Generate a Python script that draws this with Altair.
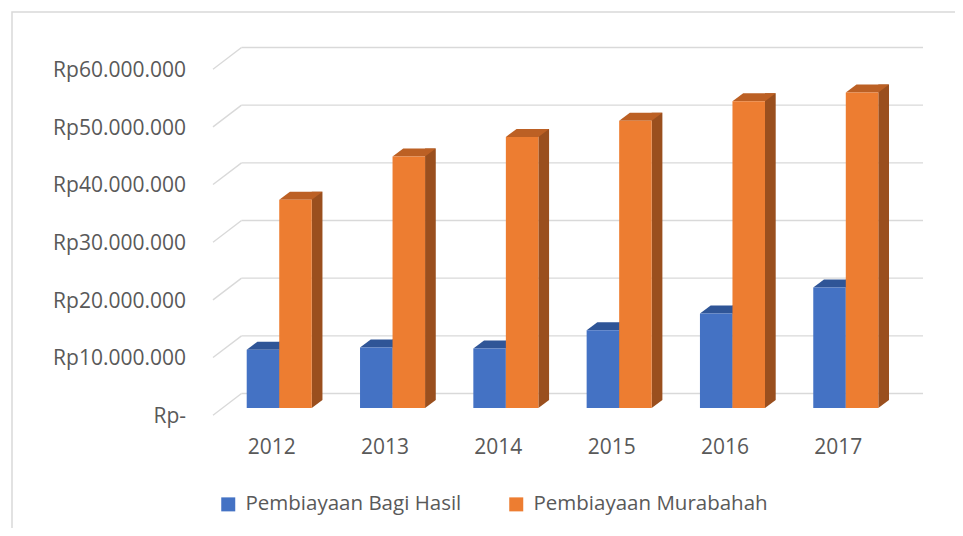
import altair as alt
import pandas as pd

# ---- data ----
years = ["2012", "2013", "2014", "2015", "2016", "2017"]
series_names = ["Pembiayaan Bagi Hasil", "Pembiayaan Murabahah"]
bagi_hasil = [10.1e6, 10.5e6, 10.3e6, 13.5e6, 16.4e6, 20.9e6]
murabahah = [36.1e6, 43.6e6, 47.0e6, 49.8e6, 53.2e6, 54.7e6]
tick_values = [0, 10e6, 20e6, 30e6, 40e6, 50e6, 60e6]
tick_labels = ["Rp-", "Rp10.000.000", "Rp20.000.000", "Rp30.000.000",
               "Rp40.000.000", "Rp50.000.000", "Rp60.000.000"]

front_colors = ["#4472C4", "#ED7D31"]
top_colors = ["#2F5597", "#BC6024"]
side_colors = ["#2A4B86", "#9A4F1E"]

# ---- layout / style constants ----
W, H = 710, 346
PAD_IN, PAD_OUT, ALIGN = 0.426, 0.346, 0.43
step = W / (len(years) - PAD_IN + 2 * PAD_OUT)
bw = step * (1 - PAD_IN) / 2
DX, DY = 10.7, 8.0
BACK_DX, BACK_DY, FRONT_DY = 28.5, -14.5, 7.2
GRID = "#D9D9D9"
TXT = "#595959"
FONT = "Open Sans"
FS = 21

series_values = [bagi_hasil, murabahah]
ticks = pd.DataFrame({"value": tick_values, "label": tick_labels})

x_scale = alt.Scale(type="band", domain=years, paddingInner=PAD_IN,
                    paddingOuter=PAD_OUT, align=ALIGN)
y_scale = alt.Scale(domain=[0, 60e6], nice=False, zero=True)
x_axis = alt.Axis(title=None, domain=False, ticks=False, grid=False,
                  labelAngle=0, labelFontSize=FS, labelColor=TXT,
                  labelFont=FONT, labelPadding=28, labelOffset=-7.5)
color_scale = alt.Scale(domain=series_names, range=front_colors)


def X():
    return alt.X("year:N", scale=x_scale, axis=x_axis, sort=years)


def Y(field="value:Q"):
    return alt.Y(field, scale=y_scale, axis=None)


layers = []

# outer border
border = alt.Chart(pd.DataFrame({"a": [0]})).mark_rect(
    fillOpacity=0, stroke=GRID, strokeWidth=1.5
).encode(x=alt.value(-201), x2=alt.value(780), y=alt.value(-50), y2=alt.value(500))
layers.append(border)

# back-wall gridlines
back = alt.Chart(ticks).mark_rule(color=GRID, strokeWidth=1.4, yOffset=BACK_DY).encode(
    y=Y(), x=alt.value(BACK_DX), x2=alt.value(W))
# floor/perspective diagonals
diag = alt.Chart(ticks).mark_rule(color=GRID, strokeWidth=1.4, yOffset=FRONT_DY,
                                   y2Offset=BACK_DY).encode(
    y=Y(), y2="value:Q", x=alt.value(0), x2=alt.value(BACK_DX))
ylabels = alt.Chart(ticks).mark_text(align="right", baseline="middle", fontSize=FS,
                                     font=FONT, color=TXT, yOffset=9).encode(
    y=Y(), x=alt.value(-27), text="label:N")
layers += [back, diag, ylabels]

top_path = f"M{-bw/2:.2f},0 L{bw/2:.2f},0 L{bw/2+DX:.2f},{-DY} L{-bw/2+DX:.2f},{-DY} Z"
tri_path = f"M{bw/2:.2f},0 L{bw/2+DX:.2f},{-DY} L{bw/2:.2f},{-DY} Z"

for k, name in enumerate(series_names):
    df = pd.DataFrame({"year": years, "value": series_values[k], "series": name})
    off = (k - 0.5) * bw
    side = alt.Chart(df).mark_bar(width=DX, xOffset=off + bw / 2 + DX / 2,
                                  yOffset=-DY, y2Offset=-DY,
                                  color=side_colors[k]).encode(
        x=X(), y=Y(), y2=alt.datum(0))
    tri = alt.Chart(df).mark_point(shape=tri_path, size=4, filled=True, opacity=1,
                                   strokeWidth=0, xOffset=off,
                                   color=side_colors[k]).encode(
        x=X(), y=alt.Y(datum=0, scale=y_scale, axis=None))
    top = alt.Chart(df).mark_point(shape=top_path, size=4, filled=True, opacity=1,
                                   strokeWidth=0, xOffset=off,
                                   color=top_colors[k]).encode(
        x=X(), y=Y())
    front = alt.Chart(df).mark_bar(width=bw, xOffset=off).encode(
        x=X(), y=Y(), y2=alt.datum(0),
        color=alt.Color("series:N", scale=color_scale, title=None,
                        legend=alt.Legend(orient="none", direction="horizontal",
                                          legendX=5, legendY=432,
                                          symbolType="square", symbolSize=196,
                                          symbolStrokeWidth=0, labelFontSize=20.5,
                                          labelFont=FONT, labelColor=TXT,
                                          labelOffset=7, columnPadding=44,
                                          labelLimit=400)))
    layers += [side, tri, top, front]

chart = alt.layer(*layers).properties(
    width=W, height=H,
    autosize=alt.AutoSizeParams(type="none"),
    padding={"left": 205, "top": 54, "right": 32, "bottom": 120},
    background="white",
).configure_view(stroke=None)

chart.save("out.html", embed_options={"renderer": "svg", "actions": False})
